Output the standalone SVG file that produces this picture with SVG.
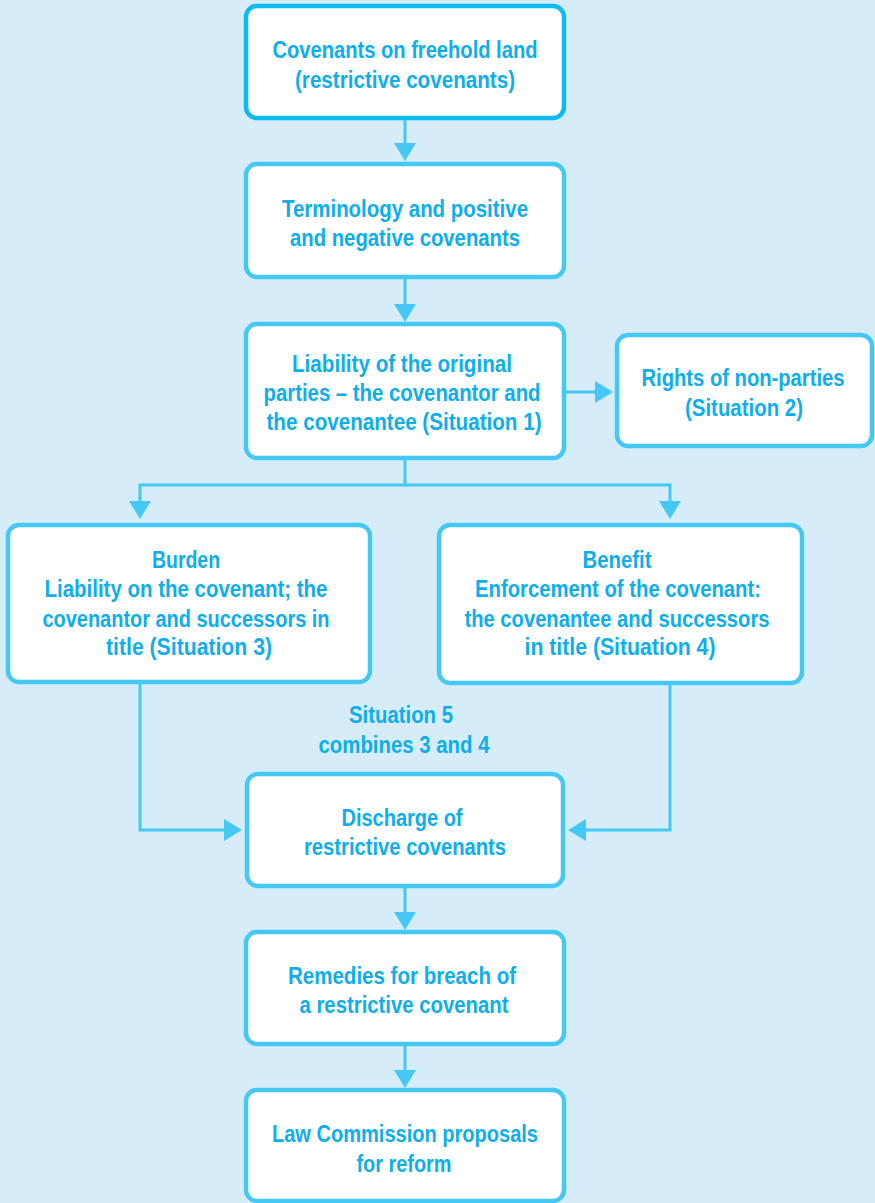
<svg xmlns="http://www.w3.org/2000/svg" width="875" height="1203" viewBox="0 0 875 1203">
  <style>
    .box { fill: #ffffff; stroke: #45c8f3; stroke-width: 4.5; }
    .box.top { stroke: #0dbbf0; }
    .lbl { font-family: "Liberation Sans", Arial, sans-serif; font-weight: bold; font-size: 23px; fill: #0eaeec; text-anchor: middle; }
    .conn { fill: none; stroke: #45c8f3; stroke-width: 3; }
  </style>
  <defs>
    <marker id="arrow" markerUnits="userSpaceOnUse" markerWidth="20" markerHeight="24" refX="8" refY="11" orient="auto">
      <path d="M0,0 L18,11 L0,22 Z" fill="#45c8f3"/>
    </marker>
  </defs>

  <rect width="875" height="1203" fill="#d6edf9"/>

  <g id="connectors">
    <line class="conn" x1="405" y1="118" x2="405" y2="151" marker-end="url(#arrow)"/>
    <line class="conn" x1="405" y1="277" x2="405" y2="312" marker-end="url(#arrow)"/>
    <line class="conn" x1="564" y1="392" x2="603" y2="392" marker-end="url(#arrow)"/>
    <path class="conn" d="M405,458 V485 H140 V509" marker-end="url(#arrow)"/>
    <path class="conn" d="M405,485 H670 V509" marker-end="url(#arrow)"/>
    <path class="conn" d="M140,683 V830 H232" marker-end="url(#arrow)"/>
    <path class="conn" d="M670,685 V830 H578" marker-end="url(#arrow)"/>
    <line class="conn" x1="405" y1="886" x2="405" y2="920" marker-end="url(#arrow)"/>
    <line class="conn" x1="405" y1="1044" x2="405" y2="1078" marker-end="url(#arrow)"/>
  </g>

  <g id="covenants-freehold">
    <rect class="box top" x="246" y="6" width="318" height="112" rx="11"/>
    <text class="lbl" x="405" y="58" textLength="265" lengthAdjust="spacingAndGlyphs">Covenants on freehold land</text>
    <text class="lbl" x="405" y="88" textLength="220" lengthAdjust="spacingAndGlyphs">(restrictive covenants)</text>
  </g>

  <g id="terminology">
    <rect class="box" x="246" y="164" width="318" height="113" rx="11"/>
    <text class="lbl" x="405" y="217" textLength="246" lengthAdjust="spacingAndGlyphs">Terminology and positive</text>
    <text class="lbl" x="405" y="246" textLength="230" lengthAdjust="spacingAndGlyphs">and negative covenants</text>
  </g>

  <g id="original-parties">
    <rect class="box" x="246" y="324" width="318" height="134" rx="11"/>
    <text class="lbl" x="402" y="372" textLength="220" lengthAdjust="spacingAndGlyphs">Liability of the original</text>
    <text class="lbl" x="402" y="401" textLength="277" lengthAdjust="spacingAndGlyphs">parties – the covenantor and</text>
    <text class="lbl" x="404" y="430" textLength="275" lengthAdjust="spacingAndGlyphs">the covenantee (Situation 1)</text>
  </g>

  <g id="non-parties">
    <rect class="box" x="617" y="335" width="255" height="111" rx="11"/>
    <text class="lbl" x="743" y="386" textLength="203" lengthAdjust="spacingAndGlyphs">Rights of non-parties</text>
    <text class="lbl" x="744" y="416" textLength="118" lengthAdjust="spacingAndGlyphs">(Situation 2)</text>
  </g>

  <g id="burden">
    <rect class="box" x="8" y="525" width="362" height="157" rx="11"/>
    <text class="lbl" x="186" y="568" textLength="68" lengthAdjust="spacingAndGlyphs">Burden</text>
    <text class="lbl" x="186" y="597" textLength="283" lengthAdjust="spacingAndGlyphs">Liability on the covenant; the</text>
    <text class="lbl" x="186" y="627" textLength="287" lengthAdjust="spacingAndGlyphs">covenantor and successors in</text>
    <text class="lbl" x="189" y="655" textLength="166" lengthAdjust="spacingAndGlyphs">title (Situation 3)</text>
  </g>

  <g id="benefit">
    <rect class="box" x="439" y="525" width="363" height="158" rx="11"/>
    <text class="lbl" x="617" y="568" textLength="69" lengthAdjust="spacingAndGlyphs">Benefit</text>
    <text class="lbl" x="618" y="597" textLength="286" lengthAdjust="spacingAndGlyphs">Enforcement of the covenant:</text>
    <text class="lbl" x="617" y="627" textLength="305" lengthAdjust="spacingAndGlyphs">the covenantee and successors</text>
    <text class="lbl" x="620" y="655" textLength="191" lengthAdjust="spacingAndGlyphs">in title (Situation 4)</text>
  </g>

  <g id="situation-5">
    <text class="lbl" x="401" y="723" textLength="104" lengthAdjust="spacingAndGlyphs">Situation 5</text>
    <text class="lbl" x="404" y="753" textLength="171" lengthAdjust="spacingAndGlyphs">combines 3 and 4</text>
  </g>

  <g id="discharge">
    <rect class="box" x="247" y="774" width="316" height="112" rx="11"/>
    <text class="lbl" x="402" y="826" textLength="121" lengthAdjust="spacingAndGlyphs">Discharge of</text>
    <text class="lbl" x="405" y="855" textLength="202" lengthAdjust="spacingAndGlyphs">restrictive covenants</text>
  </g>

  <g id="remedies">
    <rect class="box" x="246" y="932" width="318" height="112" rx="11"/>
    <text class="lbl" x="402" y="984" textLength="228" lengthAdjust="spacingAndGlyphs">Remedies for breach of</text>
    <text class="lbl" x="404" y="1013" textLength="209" lengthAdjust="spacingAndGlyphs">a restrictive covenant</text>
  </g>

  <g id="law-commission">
    <rect class="box" x="246" y="1090" width="318" height="111" rx="11"/>
    <text class="lbl" x="405" y="1142" textLength="266" lengthAdjust="spacingAndGlyphs">Law Commission proposals</text>
    <text class="lbl" x="404" y="1172" textLength="95" lengthAdjust="spacingAndGlyphs">for reform</text>
  </g>
</svg>
